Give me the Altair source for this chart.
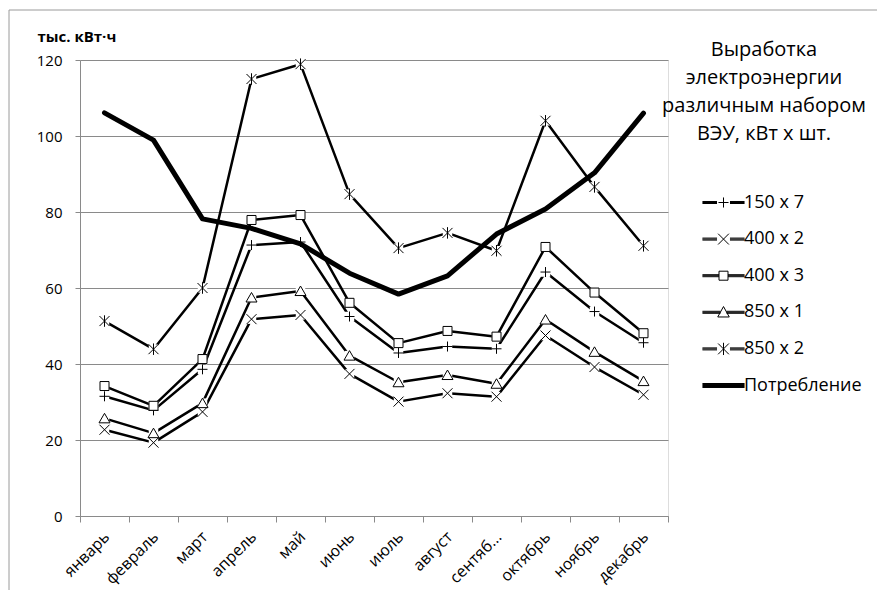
import altair as alt
import pandas as pd

months = ["январь", "февраль", "март", "апрель", "май", "июнь",
          "июль", "август", "сентябрь", "октябрь", "ноябрь", "декабрь"]
series_names = ["150 x 7", "400 x 2", "400 x 3", "850 x 1", "850 x 2", "Потребление"]

s150x7 = [31.5, 27.8, 38.6, 71.3, 72.1, 52.5, 42.9, 44.6, 44.0, 64.2, 53.8, 45.6]
s400x2 = [22.7, 19.3, 27.4, 51.8, 52.9, 37.4, 30.1, 32.3, 31.4, 47.5, 39.2, 31.9]
s400x3 = [34.2, 29.0, 41.3, 77.9, 79.2, 56.1, 45.5, 48.7, 47.2, 70.8, 58.8, 48.1]
s850x1 = [25.7, 21.8, 29.7, 57.5, 59.2, 42.2, 35.2, 37.1, 34.8, 51.7, 43.2, 35.5]
s850x2 = [51.3, 43.9, 60.0, 115.0, 118.9, 84.7, 70.5, 74.5, 69.8, 104.0, 86.6, 71.1]
consumption = [106.1, 98.9, 78.2, 75.7, 71.6, 63.9, 58.4, 63.2, 74.2, 80.8, 90.3, 106.0]

y_ticks = [0, 20, 40, 60, 80, 100, 120]
legend_title = ["Выработка", "электроэнергии", "различным набором", "ВЭУ, кВт х шт."]
y_title = "тыс. кВт·ч"

rows = []
for name, vals in zip(series_names, [s150x7, s400x2, s400x3, s850x1, s850x2, consumption]):
    for m, v in zip(months, vals):
        rows.append({"month": m, "series": name, "value": v})
df = pd.DataFrame(rows)
veu = series_names[:5]

FONT = "Open Sans"
GRID = "#8a8a8a"

# marker shapes for plot (unit box, size 100 -> 10px)
marker_paths = [
    "M-1,0H1M0,-1V1",
    "M-1,-1L1,1M-1,1L1,-1",
    "M-0.9,-0.9H0.9V0.9H-0.9Z",
    "M0,-1L1.1,0.9H-1.1Z",
    "M-1,-1L1,1M-1,1L1,-1M0,-1.15V1.15",
]

# legend glyphs: line + marker, 1 unit = 18px
U = 18.0
def seg(x0, x1, thick):
    n = int(thick)
    offs = [(i - (n - 1) / 2) / U for i in range(n)]
    return "".join("M%.3f,%.3fH%.3f" % (x0, o, x1) for o in offs)

L = 1.17
legend_paths = [
    seg(-L, -0.36, 3) + seg(0.36, L, 3) + "M-0.28,0H0.28M0,-0.28V0.28",
    seg(-L, -0.36, 3) + seg(0.36, L, 3) + "M-0.3,-0.3L0.3,0.3M-0.3,0.3L0.3,-0.3",
    seg(-L, -0.25, 3) + seg(0.25, L, 3) + "M-0.25,-0.25H0.25V0.25H-0.25Z",
    seg(-L, -0.17, 3) + seg(0.17, L, 3) + "M0,-0.32L0.32,0.26H-0.32Z",
    seg(-L, -0.36, 3) + seg(0.36, L, 3) + "M-0.3,-0.3L0.3,0.3M-0.3,0.3L0.3,-0.3M0,-0.34V0.34",
    seg(-L, L, 5),
]

x_enc = alt.X(
    "month:N", sort=months, bandPosition=0.5,
    scale=alt.Scale(type="band", domain=months, paddingInner=0, paddingOuter=0),
    axis=alt.Axis(title=None, grid=False, labelAngle=-45, labelAlign="right",
                  labelBaseline="middle", labelPadding=12, labelOffset=2,
                  tickBand="extent",
                  tickSize=6, labelFontSize=16, domainColor=GRID, tickColor=GRID,
                  labelColor="black", labelFont=FONT,
                  labelExpr="datum.label == 'сентябрь' ? 'сентяб...' : datum.label"),
)
y_enc = alt.Y(
    "value:Q",
    scale=alt.Scale(domain=[0, 120], nice=False),
    axis=alt.Axis(values=y_ticks, grid=True, gridColor=GRID, domainColor=GRID,
                  tickColor=GRID, tickSize=5, labelPadding=13, labelFontSize=15,
                  labelColor="black", labelFont=FONT,
                  title=y_title, titleAngle=0, titleX=-43, titleY=-19,
                  titleAlign="left", titleBaseline="alphabetic",
                  titleFontWeight="bold", titleFontSize=15, titleColor="black",
                  titleFont=FONT),
)

base = alt.Chart(df)

frame = alt.Chart(alt.Data(values=[{"f": 1}])).mark_rect(
    fill=None, stroke="#9a9a9a", strokeWidth=1
).encode(x=alt.value(-71), x2=alt.value(820), y=alt.value(-50), y2=alt.value(545))

lines = base.transform_filter(alt.datum.series != "Потребление").mark_line(
    color="black", strokeWidth=2.5, strokeJoin="round"
).encode(x=x_enc, y=y_enc, detail="series:N")

bg = base.transform_filter(alt.datum.series != "Потребление").mark_point(
    shape="square", filled=True, fill="white", strokeWidth=0, size=90, opacity=1
).encode(x=x_enc, y=y_enc)

markers = base.transform_filter(alt.datum.series != "Потребление").mark_point(
    filled=True, fill="white", stroke="black", strokeWidth=1, size=100, opacity=1
).encode(
    x=x_enc, y=y_enc,
    shape=alt.Shape("series:N", scale=alt.Scale(domain=veu, range=marker_paths), legend=None),
)

cons = base.transform_filter(alt.datum.series == "Потребление").mark_line(
    color="black", strokeWidth=5, strokeJoin="round", strokeCap="round"
).encode(x=x_enc, y=y_enc)

legend_layer = base.transform_filter("false").mark_point(
    filled=False, stroke="black", strokeWidth=1, size=1296, opacity=1
).encode(
    x=x_enc, y=y_enc,
    shape=alt.Shape(
        "series:N",
        scale=alt.Scale(domain=series_names, range=legend_paths),
        legend=alt.Legend(
            title=legend_title, orient="none", legendX=582, legendY=-20,
            padding=0, symbolOffset=38, labelOffset=2, rowPadding=8.6,
            symbolSize=1296, symbolStrokeWidth=1, symbolFillColor="white",
            symbolStrokeColor="black", symbolOpacity=1,
            labelFont=FONT, labelFontSize=18, labelColor="black", labelLimit=300,
            titleFont=FONT, titleFontSize=20, titleFontWeight="normal",
            titleColor="black", titleLineHeight=28, titleAlign="center",
            titleAnchor="middle", titleBaseline="top", titleLimit=400,
            titlePadding=40,
        ),
    ),
)

chart = alt.layer(frame, lines, bg, markers, cons, legend_layer).resolve_scale(
    shape="independent"
).properties(
    width=588, height=456,
    autosize=alt.AutoSizeParams(type="none"),
    padding={"left": 80, "top": 60, "right": 209, "bottom": 74},
).configure_view(stroke=None).configure(font=FONT)

chart.save("out.html", embed_options={"renderer": "svg", "actions": False})
